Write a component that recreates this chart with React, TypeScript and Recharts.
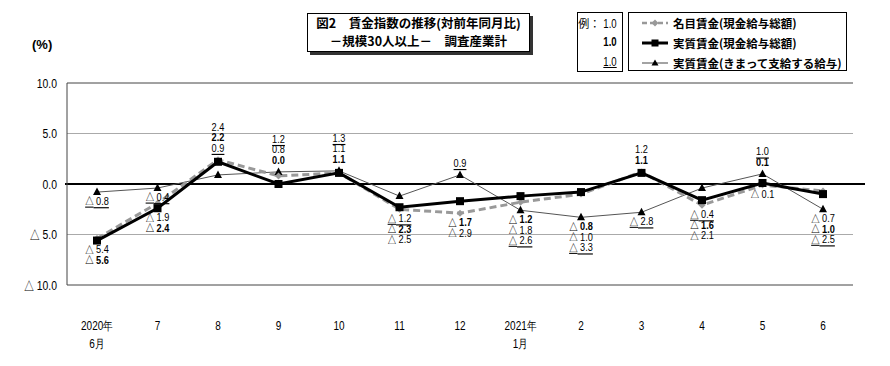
import React from 'react';
import { LineChart, Line, XAxis, YAxis, CartesianGrid } from 'recharts';

// ---------- data ----------
const months = ['2020年\n6月', '7', '8', '9', '10', '11', '12', '2021年\n1月', '2', '3', '4', '5', '6'];
const nominal = [-5.4, -1.9, 2.4, 0.8, 1.1, -2.5, -2.9, -1.8, -1.0, 1.2, -2.1, -0.1, -0.7];
const real = [-5.6, -2.4, 2.2, 0.0, 1.1, -2.3, -1.7, -1.2, -0.8, 1.1, -1.6, 0.1, -1.0];
const scheduled = [-0.8, -0.4, 0.9, 1.2, 1.3, -1.2, 0.9, -2.6, -3.3, -2.8, -0.4, 1.0, -2.5];
const yTicks = [10, 5, 0, -5, -10];
const seriesNames = ['名目賃金(現金給与総額)', '実質賃金(現金給与総額)', '実質賃金(きまって支給する給与)'];
const titleLines = ['図2　賃金指数の推移(対前年同月比)', '－規模30人以上－　調査産業計'];

const data = months.map((m, i) => ({ m, nominal: nominal[i], real: real[i], scheduled: scheduled[i] }));
const allSeries = [nominal, real, scheduled];

// ---------- layout ----------
const W = 890;
const H = 366;
const X_AXIS_H = 81;
const MARGIN = { top: 83, right: 37, bottom: 0, left: 0 };
const Y_AXIS_W = 67;
const Y_MIN = -10;
const Y_MAX = 10;
const PLOT_H = H - MARGIN.top - MARGIN.bottom - X_AXIS_H;
const PX = PLOT_H / (Y_MAX - Y_MIN);
const LINE_H = 10.5;
const ABOVE = 12;
const BELOW = 9;
const NARROW = 0.8;
const BOX = '#444';

const NUM_FONT = "'Liberation Sans',Arial,sans-serif";
const JP_FONT = "'Noto Sans CJK JP',sans-serif";

// number with Japanese-style minus (△)
const NumText = ({ v, triSize }: { v: number; triSize: number }) =>
  v < 0 ? (
    <>
      <tspan fontFamily={JP_FONT} fontSize={triSize}>△</tspan>
      {' ' + Math.abs(v).toFixed(1)}
    </>
  ) : (
    <>{v.toFixed(1)}</>
  );

// offset (px) from a point to the centre of its label
function labelOffset(series: number, i: number): number {
  const items = allSeries.map((arr, s) => ({ s, v: arr[i] }));
  const own = items[series].v;
  const cmp = (a: any, b: any) => b.v - a.v || a.s - b.s;
  if (own >= 0) {
    const pos = items.filter((d) => d.v >= 0).sort(cmp);
    const anchor = pos[0].v;
    const n = pos.length;
    const k = pos.findIndex((d) => d.s === series);
    return (own - anchor) * PX - ABOVE - (n - 1 - k) * LINE_H;
  }
  const neg = items.filter((d) => d.v < 0).sort(cmp);
  const clusters: any[][] = [];
  let cur: any[] = [];
  neg.forEach((d) => {
    if (cur.length === 0) {
      cur.push(d);
      return;
    }
    const lowest = cur[cur.length - 1].v;
    const gap = (lowest - d.v) * PX;
    if (gap >= cur.length * LINE_H + 4) {
      clusters.push(cur);
      cur = [d];
    } else cur.push(d);
  });
  if (cur.length) clusters.push(cur);
  const cl = clusters.find((c) => c.some((d: any) => d.s === series))!;
  const min = cl[cl.length - 1].v;
  const k = cl.findIndex((d: any) => d.s === series);
  return (own - min) * PX + BELOW + k * LINE_H;
}

const NarrowText = ({ x, y, children, anchor = 'middle', ...rest }: any) => (
  <text
    transform={`translate(${x},${y}) scale(${NARROW},1)`}
    x={0}
    y={0}
    dominantBaseline="central"
    textAnchor={anchor}
    fontFamily={NUM_FONT}
    fill="#000"
    {...rest}
  >
    {children}
  </text>
);

const makeLabel = (series: number) => (props: any) => {
  const { cx, cy, index } = props;
  if (cx == null || cy == null) return <g key={`l${series}-${index}`} />;
  const v = allSeries[series][index];
  const dy = labelOffset(series, index);
  return (
    <g key={`l${series}-${index}`}>
      <NarrowText
        x={cx}
        y={cy + dy}
        fontSize={11.5}
        fontWeight={series === 1 ? 'bold' : 'normal'}
        textDecoration={series === 2 ? 'underline' : undefined}
      >
        <NumText v={v} triSize={10.5} />
      </NarrowText>
    </g>
  );
};

const DiamondDot = (props: any) => {
  const { cx, cy, index } = props;
  if (cx == null) return <g key={`d${index}`} />;
  const r = 3.5;
  return <path key={`d${index}`} d={`M${cx},${cy - r}L${cx + r},${cy}L${cx},${cy + r}L${cx - r},${cy}Z`} fill="#999" />;
};
const SquareDot = (props: any) => {
  const { cx, cy, index } = props;
  if (cx == null) return <g key={`s${index}`} />;
  return <rect key={`s${index}`} x={cx - 4} y={cy - 4} width={8} height={8} fill="#000" />;
};
const TriDot = (props: any) => {
  const { cx, cy, index } = props;
  if (cx == null) return <g key={`t${index}`} />;
  return <path key={`t${index}`} d={`M${cx},${cy - 4.5}L${cx + 4},${cy + 3}L${cx - 4},${cy + 3}Z`} fill="#000" />;
};

const XTick = (props: any) => {
  const { x, y, payload } = props;
  const lines = String(payload.value).split('\n');
  return (
    <g>
      {lines.map((t, j) => (
        <NarrowText key={j} x={x} y={y + 33 + j * 18} fontSize={12.5}>
          {t}
        </NarrowText>
      ))}
    </g>
  );
};

const YTick = (props: any) => {
  const { x, y, payload } = props;
  return (
    <NarrowText x={x} y={y} anchor="end" fontSize={13}>
      <NumText v={payload.value as number} triSize={12} />
    </NarrowText>
  );
};

// horizontal grid: box top/bottom dark, ±5 light, zero thick black and extended
const GridLine = (props: any) => {
  const { x1, y1, x2, y2, key } = props;
  const v = Y_MAX - (y1 - MARGIN.top) / PX;
  if (Math.abs(v) < 0.01) {
    return <line key={key} x1={x1 - 2} y1={y1} x2={x2 + 12} y2={y2} stroke="#000" strokeWidth={2} />;
  }
  if (Math.abs(Math.abs(v) - 10) < 0.01) {
    return <line key={key} x1={x1} y1={y1} x2={x2} y2={y2} stroke={BOX} strokeWidth={1} />;
  }
  return <line key={key} x1={x1} y1={y1} x2={x2} y2={y2} stroke="#aaa" strokeWidth={1} />;
};

const LegendIcon = ({ kind }: { kind: number }) => (
  <svg width={26} height={10} style={{ display: 'block' }}>
    {kind === 0 && (
      <>
        <line x1={0} y1={5} x2={26} y2={5} stroke="#999" strokeWidth={2.5} strokeDasharray="5 3" />
        <path d="M13,1.5L16.5,5L13,8.5L9.5,5Z" fill="#999" />
      </>
    )}
    {kind === 1 && (
      <>
        <line x1={0} y1={5} x2={26} y2={5} stroke="#000" strokeWidth={3} />
        <rect x={9.5} y={1.5} width={7} height={7} fill="#000" />
      </>
    )}
    {kind === 2 && (
      <>
        <line x1={0} y1={5} x2={26} y2={5} stroke="#666" strokeWidth={1.2} />
        <path d="M13,1.5L16.5,7.5L9.5,7.5Z" fill="#000" />
      </>
    )}
  </svg>
);

const narrowSpan = (text: string, extra: any = {}) => (
  <span
    style={{
      display: 'inline-block',
      fontFamily: NUM_FONT,
      transform: `scaleX(${NARROW})`,
      transformOrigin: 'right center',
      ...extra,
    }}
  >
    {text}
  </span>
);

export default function App() {
  return (
    <div style={{ position: 'absolute', left: 0, top: 0, width: W, height: H, background: '#fff' }}>
      <LineChart width={W} height={H} data={data} margin={MARGIN}>
        <CartesianGrid vertical={false} horizontal={GridLine} />
        <XAxis
          dataKey="m"
          axisLine={false}
          tickLine={false}
          height={X_AXIS_H}
          interval={0}
          padding={{ left: 30, right: 30 }}
          tick={<XTick />}
        />
        <YAxis
          domain={[Y_MIN, Y_MAX]}
          ticks={yTicks}
          width={Y_AXIS_W}
          axisLine={{ stroke: BOX, strokeWidth: 1 }}
          tickLine={false}
          tickSize={8}
          tickMargin={2}
          tick={<YTick />}
          allowDataOverflow
        />
        <YAxis
          yAxisId="frame"
          orientation="right"
          domain={[Y_MIN, Y_MAX]}
          width={0}
          tick={false}
          tickLine={false}
          axisLine={{ stroke: BOX, strokeWidth: 1 }}
        />
        <Line dataKey="scheduled" stroke="#555" strokeWidth={1} dot={TriDot} activeDot={false} isAnimationActive={false} />
        <Line
          dataKey="nominal"
          stroke="#999"
          strokeWidth={3}
          strokeDasharray="7 4"
          dot={DiamondDot}
          activeDot={false}
          isAnimationActive={false}
        />
        <Line dataKey="real" stroke="#000" strokeWidth={3} dot={SquareDot} activeDot={false} isAnimationActive={false} />
        <Line dataKey="nominal" stroke="none" dot={makeLabel(0)} activeDot={false} isAnimationActive={false} legendType="none" />
        <Line dataKey="real" stroke="none" dot={makeLabel(1)} activeDot={false} isAnimationActive={false} legendType="none" />
        <Line dataKey="scheduled" stroke="none" dot={makeLabel(2)} activeDot={false} isAnimationActive={false} legendType="none" />
      </LineChart>

      {/* unit label */}
      <div style={{ position: 'absolute', left: 32, top: 37, fontFamily: NUM_FONT, fontSize: 13, fontWeight: 'bold' }}>(%)</div>

      {/* title */}
      <div
        style={{
          position: 'absolute',
          left: 307,
          top: 13,
          width: 223,
          height: 39,
          boxSizing: 'border-box',
          border: '1px solid #000',
          boxShadow: '3px 3px 0 #333',
          background: '#fff',
          fontFamily: JP_FONT,
          fontWeight: 'bold',
          fontSize: 12.5,
          lineHeight: '18px',
          textAlign: 'center',
          whiteSpace: 'nowrap',
        }}
      >
        <div>{titleLines[0]}</div>
        <div>{titleLines[1]}</div>
      </div>

      {/* example box */}
      <div
        style={{
          position: 'absolute',
          left: 577,
          top: 12,
          width: 46,
          height: 60,
          boxSizing: 'border-box',
          border: '1px solid #000',
          background: '#fff',
          fontSize: 12,
        }}
      >
        <div style={{ position: 'absolute', right: 5, top: 2, whiteSpace: 'nowrap' }}>
          <span style={{ fontFamily: JP_FONT, fontSize: 11 }}>例：</span>
          {narrowSpan('1.0')}
        </div>
        <div style={{ position: 'absolute', right: 5, top: 22 }}>{narrowSpan('1.0', { fontWeight: 'bold' })}</div>
        <div style={{ position: 'absolute', right: 5, top: 42 }}>{narrowSpan('1.0', { textDecoration: 'underline' })}</div>
      </div>

      {/* legend box */}
      <div
        style={{
          position: 'absolute',
          left: 628,
          top: 12,
          width: 219,
          height: 59,
          boxSizing: 'border-box',
          border: '1px solid #000',
          background: '#fff',
        }}
      >
        {seriesNames.map((name, k) => (
          <div
            key={k}
            style={{
              position: 'absolute',
              left: 13,
              top: 2 + k * 20,
              height: 16,
              display: 'flex',
              alignItems: 'center',
              whiteSpace: 'nowrap',
            }}
          >
            <LegendIcon kind={k} />
            <span style={{ marginLeft: 5, fontFamily: JP_FONT, fontWeight: 'bold', fontSize: 11.5 }}>{name}</span>
          </div>
        ))}
      </div>
    </div>
  );
}
